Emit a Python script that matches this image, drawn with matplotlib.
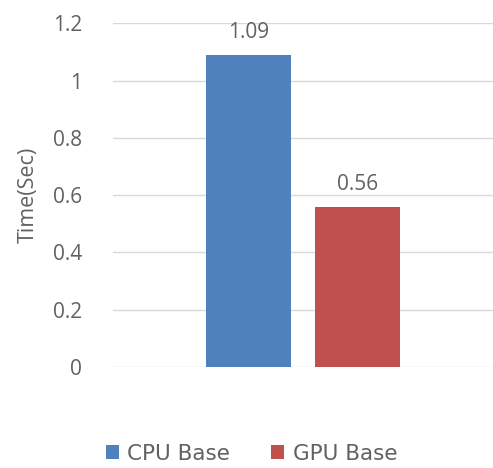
import matplotlib
matplotlib.use("Agg")
import matplotlib.pyplot as plt
from matplotlib.patches import Patch

series_names = ["CPU Base", "GPU Base"]
times = [1.09, 0.56]
colors = ["#4F81BD", "#C0504D"]
y_ticks = [0, 0.2, 0.4, 0.6, 0.8, 1.0, 1.2]
y_tick_labels = ["0", "0.2", "0.4", "0.6", "0.8", "1", "1.2"]

text_color = "#616161"
plt.rcParams["font.family"] = ["Open Sans", "DejaVu Sans"]

fig = plt.figure(figsize=(4.93, 4.68), dpi=100)
ax = fig.add_axes([0.229, 0.216, 0.771, 0.734])

offsets = [-0.285, 0.285]
bar_width = 0.447
for name, value, color, off in zip(series_names, times, colors, offsets):
    ax.bar(off, value, width=bar_width, color=color, zorder=3)
    ax.text(off, value + 0.04, f"{value:.2f}", ha="center", va="bottom",
            fontsize=15, color=text_color, zorder=4)

ax.set_xlim(-1, 1)
ax.set_ylim(0, 1.2)
ax.set_yticks(y_ticks)
ax.set_yticklabels(y_tick_labels, fontsize=15, color=text_color)
ax.set_xticks([])
ax.tick_params(axis="y", length=0, pad=22)
ax.grid(axis="y", color="#D9D9D9", linewidth=1.0, zorder=0)
for spine in ax.spines.values():
    spine.set_visible(False)
ax.set_ylabel("Time(Sec)", fontsize=15.5, color=text_color, labelpad=10)

handles = [Patch(facecolor=c, edgecolor="none") for c in colors]
fig.legend(handles, series_names, loc="lower center", bbox_to_anchor=(0.51, 0.0),
           ncol=2, frameon=False, prop={"family": ["DejaVu Sans"], "size": 15.5},
           labelcolor=text_color, handlelength=0.6, handleheight=0.6,
           handletextpad=0.4, columnspacing=1.9, borderpad=0.1, borderaxespad=0.1)

fig.savefig("out.png", dpi=100)
